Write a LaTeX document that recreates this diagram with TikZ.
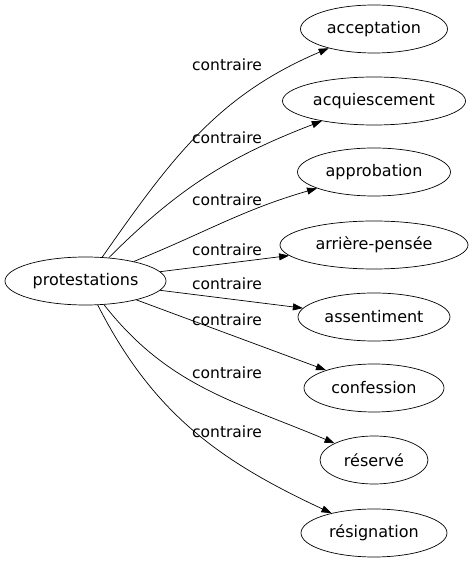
\documentclass[tikz,border=0pt]{standalone}
\usepackage{fontspec}
\setmainfont{DejaVu Sans}
\usetikzlibrary{arrows.meta,shapes.geometric}

\begin{document}
\begin{tikzpicture}[x=1pt, y=1pt, line width=0.7pt, >={Triangle[length=10pt, width=7pt]},
        word/.style = {draw, ellipse, minimum height=48pt, inner sep=0pt, font=\fontsize{16}{19}\selectfont},
        rel/.style = {inner sep=0pt, font=\fontsize{15.5}{18}\selectfont}]
        \useasboundingbox (0,0) rectangle (473,563);
        \node[word, minimum width=161pt] (0) at (85.5,282) {protestations};
        \node[word, minimum width=147pt] (1) at (374,534) {acceptation};
        \node[word, minimum width=183pt] (2) at (374,462) {acquiescement};
        \node[word, minimum width=153pt] (3) at (374,391) {approbation};
        \node[word, minimum width=188pt] (4) at (374,318) {arrière-pensée};
        \node[word, minimum width=152pt] (5) at (374,246) {assentiment};
        \node[word, minimum width=140pt] (6) at (374,175) {confession};
        \node[word, minimum width=108pt] (7) at (374,103) {réservé};
        \node[word, minimum width=146pt] (8) at (374,30) {résignation};
        \node[rel] (l1) at (227,498) {contraire};
        \node[rel] (l2) at (227,425) {contraire};
        \node[rel] (l3) at (227,363) {contraire};
        \node[rel] (l4) at (227,313) {contraire};
        \node[rel] (l5) at (227,279) {contraire};
        \node[rel] (l6) at (227,243) {contraire};
        \node[rel] (l7) at (227,190) {contraire};
        \node[rel] (l8) at (227,131) {contraire};
        \draw[->] (0) to [out=55, in=203] (1);
        \draw[->] (0) to [out=45, in=201] (2);
        \draw[->] (0) to [out=22, in=196] (3);
        \draw[->] (0) -- (4);
        \draw[->] (0) -- (5);
        \draw[->] (0) -- (6);
        \draw[->] (0) to [out=-52, in=157] (7);
        \draw[->] (0) to [out=-63, in=155] (8);
    \end{tikzpicture}
\end{document}
